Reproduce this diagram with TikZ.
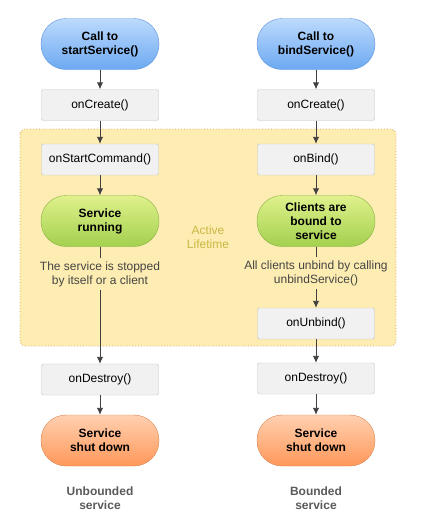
\documentclass[tikz,border=0pt]{standalone}
\usepackage{fontspec}
\setmainfont{Liberation Sans}
\usetikzlibrary{positioning,arrows,arrows.meta,backgrounds}

\definecolor{blueTop}{HTML}{BCDBFC}
\definecolor{blueBot}{HTML}{6DA8F2}
\definecolor{blueLine}{HTML}{5E92D8}
\definecolor{greenTop}{HTML}{DFF18C}
\definecolor{greenBot}{HTML}{A3D04E}
\definecolor{greenLine}{HTML}{84AE44}
\definecolor{orangeTop}{HTML}{FFD0B0}
\definecolor{orangeBot}{HTML}{FF985A}
\definecolor{orangeLine}{HTML}{D98452}
\definecolor{boxFill}{HTML}{F1F1F1}
\definecolor{boxLine}{HTML}{C2C2C2}
\definecolor{activeFill}{HTML}{FEEDB2}
\definecolor{activeLine}{HTML}{D9AC62}
\definecolor{activeText}{HTML}{C9B845}
\definecolor{arrowGray}{HTML}{404040}
\definecolor{noteGray}{HTML}{444444}
\definecolor{labelGray}{HTML}{5A5A5A}

\tikzset{
    pill/.style={
        rectangle,
        rounded corners=25pt,
        minimum width=118pt,
        minimum height=51pt,
        align=center,
        font=\fontsize{12}{14}\selectfont\bfseries,
    },
    callpill/.style={
        pill,
        draw=blueLine,
        top color=blueTop,
        bottom color=blueBot,
    },
    runpill/.style={
        pill,
        draw=greenLine,
        top color=greenTop,
        bottom color=greenBot,
    },
    endpill/.style={
        pill,
        draw=orangeLine,
        top color=orangeTop,
        bottom color=orangeBot,
    },
    cbbox/.style={
        rectangle,
        rounded corners=1.5pt,
        draw=boxLine,
        fill=boxFill,
        minimum width=117pt,
        minimum height=31pt,
        font=\fontsize{12}{14}\selectfont,
    },
    note/.style={
        align=center,
        text=noteGray,
        font=\fontsize{12}{14}\selectfont,
    },
    kind/.style={
        align=center,
        text=labelGray,
        font=\fontsize{12}{14}\selectfont\bfseries,
    },
    active/.style={
        draw=activeLine,
        fill=activeFill,
        dotted,
        line width=0.9pt,
        rounded corners=5pt,
    },
    connector/.style={
        -{Latex[length=7pt,width=6.5pt]},
        draw=arrowGray,
        line width=0.9pt,
    },
    plain connector/.style={
        draw=arrowGray,
        line width=0.9pt,
    },
}

\begin{document}
\begin{tikzpicture}[x=1pt,y=-1pt]
    \useasboundingbox (0,0) rectangle (421,523);
    % active lifetime area
    \draw[active] (20,129) rectangle (396,346);
    \node[text=activeText,align=center,font=\fontsize{12}{14}\selectfont](life) at (208,237){Active\\Lifetime};

    % unbounded service
    \node[callpill](call1) at (100,44) {Call to\\startService()};
    \node[cbbox](create1) at (100,105) {onCreate()};
    \node[cbbox](start1) at (100,159.5) {onStartCommand()};
    \node[runpill](run1) at (100,221) {Service\\running};
    \node[note](stop1) at (100,274) {The service is stopped\\by itself or a client};
    \node[cbbox](destroy1) at (100,379.5) {onDestroy()};
    \node[endpill](shut1) at (100,440.5) {Service\\shut down};
    \node[kind](kind1) at (100,498) {Unbounded\\service};

    % bounded service
    \node[callpill](call2) at (316,44) {Call to\\bindService()};
    \node[cbbox](create2) at (316,105) {onCreate()};
    \node[cbbox](bind2) at (316,159.5) {onBind()};
    \node[runpill](bound2) at (316,221) {Clients are\\bound to\\service};
    \node[note](unb2) at (316,273) {All clients unbind by calling\\unbindService()};
    \node[cbbox](unbind2) at (316,323.5) {onUnbind()};
    \node[cbbox](destroy2) at (316,378.5) {onDestroy()};
    \node[endpill](shut2) at (316,440.5) {Service\\shut down};
    \node[kind](kind2) at (316,498) {Bounded\\service};

    \draw[connector] (call1) -- (create1);
    \draw[connector] (create1) -- (start1);
    \draw[connector] (start1) -- (run1);
    \draw[plain connector] (run1) -- (stop1);
    \draw[connector] (stop1) -- (destroy1);
    \draw[connector] (destroy1) -- (shut1);

    \draw[connector] (call2) -- (create2);
    \draw[connector] (create2) -- (bind2);
    \draw[connector] (bind2) -- (bound2);
    \draw[plain connector] (bound2) -- (unb2);
    \draw[connector] (unb2) -- (unbind2);
    \draw[connector] (unbind2) -- (destroy2);
    \draw[connector] (destroy2) -- (shut2);
\end{tikzpicture}
\end{document}
